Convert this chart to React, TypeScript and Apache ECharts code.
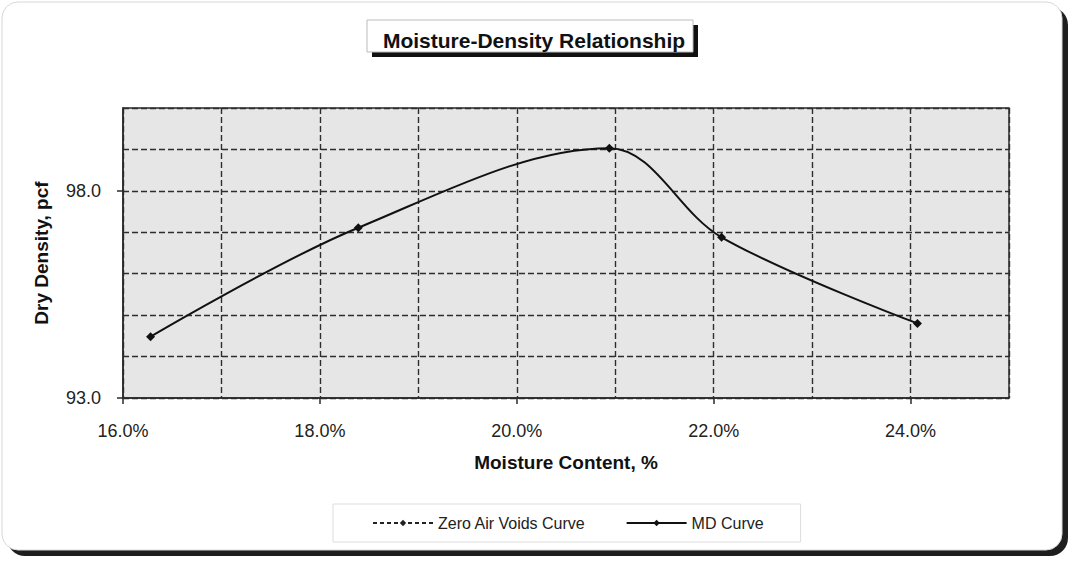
import React, { useEffect, useRef } from "react";
import * as echarts from "echarts";

const moisture = [16.28, 18.39, 20.94, 22.08, 24.07];
const density = [94.48, 97.11, 99.03, 96.88, 94.8];
const zavMoisture: number[] = [];
const zavDensity: number[] = [];
const xLabelValues = [16, 18, 20, 22, 24];
const yLabelValues = [93, 98];
const titleText = "Moisture-Density Relationship";
const xName = "Moisture Content, %";
const yName = "Dry Density, pcf";
const seriesNames = ["Zero Air Voids Curve", "MD Curve"];

const FONT = "'Liberation Sans', Arial, sans-serif";
const X_MIN = 16;
const X_MAX = 25;
const Y_MIN = 93;
const Y_MAX = 100;

export default function App() {
  const ref = useRef<HTMLDivElement>(null);
  useEffect(() => {
    if (!ref.current) return;
    const chart = echarts.init(ref.current, undefined, { renderer: "svg" });
    const mdData = moisture.map((m, i) => [m, density[i]]);
    const zavData = zavMoisture.map((m, i) => [m, zavDensity[i]]);
    const gridLine = {
      show: true,
      lineStyle: { color: "#2e2e2e", width: 1.4, type: [6, 3] },
    };
    const axisLineStyle = { color: "#2a2a2a", width: 1.5 };
    chart.setOption({
      animation: false,
      backgroundColor: "#ffffff",
      textStyle: { fontFamily: FONT },
      graphic: [
        {
          type: "rect",
          z: -10,
          shape: { x: 7, y: 7, width: 1061, height: 549, r: 18 },
          style: { fill: "#1e1e1e" },
        },
        {
          type: "rect",
          z: -9,
          shape: { x: 2, y: 2, width: 1060, height: 548, r: 16 },
          style: { fill: "#ffffff", stroke: "#d8d8d8", lineWidth: 1 },
        },
        {
          type: "rect",
          z: -8,
          shape: { x: 372, y: 25, width: 326, height: 32 },
          style: { fill: "#111111" },
        },
        {
          type: "rect",
          z: -7,
          shape: { x: 367, y: 20, width: 326, height: 32 },
          style: { fill: "#ffffff", stroke: "#bbbbbb", lineWidth: 1 },
        },
      ],
      title: {
        text: titleText,
        left: 529,
        top: 25,
        textAlign: "center",
        textStyle: {
          fontFamily: FONT,
          fontWeight: "bold",
          fontSize: 21,
          color: "#111",
        },
      },
      legend: {
        data: seriesNames,
        left: 333,
        top: 504,
        height: 39,
        padding: [11, 37, 11, 39],
        itemGap: 40,
        itemWidth: 60,
        itemHeight: 8,
        borderColor: "#dddddd",
        borderWidth: 1,
        textStyle: { fontFamily: FONT, fontSize: 16, color: "#222" },
      },
      grid: {
        left: 123,
        right: 61,
        top: 108,
        bottom: 164,
        show: true,
        backgroundColor: "#e6e6e6",
        borderColor: "#2a2a2a",
        borderWidth: 1.5,
      },
      xAxis: [
        {
          type: "value",
          min: X_MIN,
          max: X_MAX,
          interval: 1,
          position: "bottom",
          axisLine: { show: true, lineStyle: axisLineStyle },
          axisTick: { show: false },
          axisLabel: { show: false },
          splitLine: gridLine,
        },
        {
          type: "value",
          min: X_MIN,
          max: X_MAX,
          position: "bottom",
          offset: 0,
          name: xName,
          nameLocation: "middle",
          nameGap: 55,
          nameTextStyle: {
            fontFamily: FONT,
            fontWeight: "bold",
            fontSize: 19,
            color: "#111",
          },
          axisLine: { show: false },
          axisTick: {
            show: true,
            customValues: xLabelValues,
            length: 6,
            lineStyle: axisLineStyle,
          },
          axisLabel: {
            customValues: xLabelValues,
            margin: 24,
            fontFamily: FONT,
            fontSize: 18,
            color: "#222",
            formatter: (v: number) => v.toFixed(1) + "%",
          },
          splitLine: { show: false },
        },
      ],
      yAxis: [
        {
          type: "value",
          min: Y_MIN,
          max: Y_MAX,
          interval: 1,
          position: "left",
          axisLine: { show: true, lineStyle: axisLineStyle },
          axisTick: { show: false },
          axisLabel: { show: false },
          splitLine: gridLine,
        },
        {
          type: "value",
          min: Y_MIN,
          max: Y_MAX,
          position: "left",
          offset: 0,
          name: yName,
          nameLocation: "middle",
          nameGap: 72,
          nameTextStyle: {
            fontFamily: FONT,
            fontWeight: "bold",
            fontSize: 19,
            color: "#111",
          },
          axisLine: { show: false },
          axisTick: {
            show: true,
            customValues: yLabelValues,
            length: 6,
            lineStyle: axisLineStyle,
          },
          axisLabel: {
            customValues: yLabelValues,
            margin: 22,
            fontFamily: FONT,
            fontSize: 18,
            color: "#222",
            formatter: (v: number) => v.toFixed(1),
          },
          splitLine: { show: false },
        },
      ],
      series: [
        {
          name: seriesNames[0],
          type: "line",
          xAxisIndex: 0,
          yAxisIndex: 0,
          data: zavData,
          symbol: "diamond",
          symbolSize: 8,
          lineStyle: { color: "#222", width: 1.3, type: [4, 3] },
          itemStyle: { color: "#222" },
        },
        {
          name: seriesNames[1],
          type: "line",
          xAxisIndex: 0,
          yAxisIndex: 0,
          data: mdData,
          smooth: 0.35,
          symbol: "diamond",
          symbolSize: 9,
          lineStyle: { color: "#111", width: 2 },
          itemStyle: { color: "#111" },
        },
      ],
    });
    return () => chart.dispose();
  }, []);
  return (
    <div
      ref={ref}
      style={{ position: "fixed", left: 0, top: 0, width: 1070, height: 562 }}
    />
  );
}
